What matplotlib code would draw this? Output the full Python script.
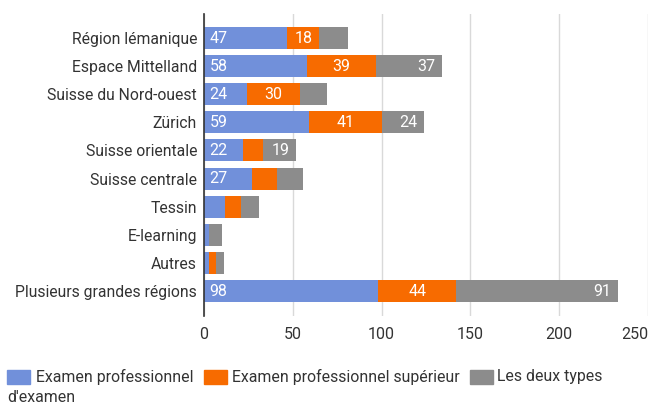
import matplotlib
matplotlib.use("Agg")
import matplotlib.pyplot as plt
from matplotlib.patches import Rectangle

categories = ["Région lémanique", "Espace Mittelland", "Suisse du Nord-ouest", "Zürich",
              "Suisse orientale", "Suisse centrale", "Tessin", "E-learning", "Autres",
              "Plusieurs grandes régions"]
exam_pro = [47, 58, 24, 59, 22, 27, 12, 3, 3, 98]
exam_sup = [18, 39, 30, 41, 11, 14, 9, 0, 4, 44]
both = [16, 37, 15, 24, 19, 15, 10, 7, 4, 91]
series_names = ["Examen professionnel", "Examen professionnel supérieur", "Les deux types"]
xticks = [0, 50, 100, 150, 200, 250]

colors = ["#7190DA", "#F76B00", "#8C8C8C"]
txt = "#333333"
plt.rcParams['font.family'] = ['Roboto', 'DejaVu Sans']

fig = plt.figure(figsize=(6.52, 4.05), dpi=100)
W, H = 652, 405
ax = fig.add_axes([204 / W, 1 - 316 / H, (648 - 204) / W, (316 - 14) / H])

y = list(range(len(categories)))
h = 0.78
ax.barh(y, exam_pro, height=h, color=colors[0], zorder=3)
ax.barh(y, exam_sup, left=exam_pro, height=h, color=colors[1], zorder=3)
left3 = [a + b for a, b in zip(exam_pro, exam_sup)]
ax.barh(y, both, left=left3, height=h, color=colors[2], zorder=3)

thr = 18
fs = 11.5
for i in y:
    if exam_pro[i] >= thr:
        ax.annotate(str(exam_pro[i]), (0, i), xytext=(4, 0), textcoords="offset points",
                    ha="left", va="center", color="white", fontsize=fs, zorder=4)
    if exam_sup[i] >= thr:
        ax.annotate(str(exam_sup[i]), (exam_pro[i] + exam_sup[i] / 2, i),
                    ha="center", va="center", color="white", fontsize=fs, zorder=4)
    if both[i] >= thr:
        ax.annotate(str(both[i]), (left3[i] + both[i], i), xytext=(-5, 0), textcoords="offset points",
                    ha="right", va="center", color="white", fontsize=fs, zorder=4)

ax.set_xlim(0, 250)
ax.set_ylim(9.889, -0.854)
ax.set_xticks(xticks)
ax.set_yticks(y)
ax.set_yticklabels(categories)
ax.tick_params(axis="both", length=0, colors=txt)
ax.tick_params(axis="y", pad=5, labelsize=11.35)
ax.tick_params(axis="x", pad=8, labelsize=11.5)
xl = ax.get_xticklabels()
xl[-1].set_horizontalalignment("right")
ax.grid(axis="x", color="#D9D9D9", linewidth=1, zorder=0)
for s in ["top", "right", "bottom"]:
    ax.spines[s].set_visible(False)
ax.spines["left"].set_color("#333333")
ax.spines["left"].set_linewidth(1.2)
ax.spines["left"].set_zorder(5)

# legend
leg_items = [(7, 36, series_names[0]), (204, 232, series_names[1]), (470, 497, series_names[2])]
for (x0, xt, name), c in zip(leg_items, colors):
    fig.patches.append(Rectangle((x0 / W, 1 - 384 / H), 23 / W, 14 / H,
                                 transform=fig.transFigure, color=c))
    fig.text(xt / W, 1 - 377 / H, name, ha="left", va="center",
             fontsize=11.4, color=txt)
fig.text(7 / W, 1 - 398 / H, "d'examen", ha="left", va="center", fontsize=11.4, color=txt)

fig.savefig("out.png", dpi=100)
